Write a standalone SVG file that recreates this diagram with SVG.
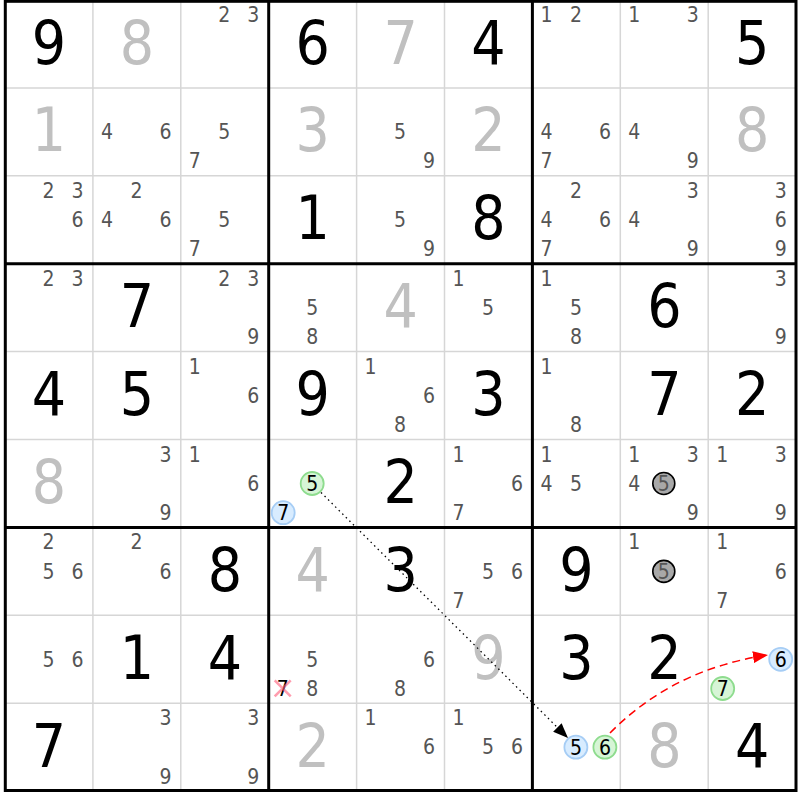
<svg xmlns="http://www.w3.org/2000/svg" width="800" height="800" viewBox="0 0 800 800">
<style>
text{font-family:"DejaVu Sans Condensed","DejaVu Sans",sans-serif;text-anchor:middle}
.b{font-size:60px;fill:#000}
.g{font-size:60px;fill:#c0c0c0}
.c{font-size:21px;fill:#555555}
.k{font-size:21px;fill:#000}
.thin{stroke:#d6d6d6;stroke-width:1.5}
.thick{stroke:#000;stroke-width:3;fill:none}
.blue{fill:#d8ecff;stroke:#a6cdf5;stroke-width:1.8}
.green{fill:#d6f5d6;stroke:#8edc8e;stroke-width:1.8}
.grey{fill:#a8a8a8;stroke:#000;stroke-width:1.6}
</style>
<defs>
<marker id="ab" markerUnits="userSpaceOnUse" markerWidth="16" markerHeight="12" refX="15" refY="6" orient="auto"><path d="M0,0 L15,6 L0,12 Z" fill="#000"/></marker>
<marker id="ar" markerUnits="userSpaceOnUse" markerWidth="16" markerHeight="12" refX="15" refY="6" orient="auto"><path d="M0,0 L15,6 L0,12 Z" fill="#ff0000"/></marker>
</defs>
<rect width="800" height="800" fill="#fff"/>
<g id="grid">
<g class="thin">
<line x1="92.9" y1="0" x2="92.9" y2="791"/><line x1="180.8" y1="0" x2="180.8" y2="791"/>
<line x1="356.6" y1="0" x2="356.6" y2="791"/><line x1="444.5" y1="0" x2="444.5" y2="791"/>
<line x1="620.3" y1="0" x2="620.3" y2="791"/><line x1="708.2" y1="0" x2="708.2" y2="791"/>
<line x1="5" y1="87.9" x2="796" y2="87.9"/><line x1="5" y1="175.8" x2="796" y2="175.8"/>
<line x1="5" y1="351.6" x2="796" y2="351.6"/><line x1="5" y1="439.5" x2="796" y2="439.5"/>
<line x1="5" y1="615.3" x2="796" y2="615.3"/><line x1="5" y1="703.2" x2="796" y2="703.2"/>
</g>
<g class="thick">
<rect x="5.3" y="1.3" width="790.7" height="789.2"/>
<line x1="268.7" y1="0" x2="268.7" y2="791"/><line x1="532.4" y1="0" x2="532.4" y2="791"/>
<line x1="5" y1="263.7" x2="796" y2="263.7"/><line x1="5" y1="527.4" x2="796" y2="527.4"/>
</g>
</g>
<!-- row 0 -->
<g id="r0c0" transform="translate(5,0)"><text class="b" x="44" y="63.5">9</text></g>
<g id="r0c1" transform="translate(92.9,0)"><text class="g" x="44" y="63.5">8</text></g>
<g id="r0c2" transform="translate(180.8,0)"><text class="c" x="43.5" y="22">2</text><text class="c" x="72.5" y="22">3</text></g>
<g id="r0c3" transform="translate(268.7,0)"><text class="b" x="44" y="63.5">6</text></g>
<g id="r0c4" transform="translate(356.6,0)"><text class="g" x="44" y="63.5">7</text></g>
<g id="r0c5" transform="translate(444.5,0)"><text class="b" x="44" y="63.5">4</text></g>
<g id="r0c6" transform="translate(532.4,0)"><text class="c" x="14" y="22">1</text><text class="c" x="43.5" y="22">2</text></g>
<g id="r0c7" transform="translate(620.3,0)"><text class="c" x="14" y="22">1</text><text class="c" x="72.5" y="22">3</text></g>
<g id="r0c8" transform="translate(708.2,0)"><text class="b" x="44" y="63.5">5</text></g>
<!-- row 1 -->
<g id="r1c0" transform="translate(5,87.9)"><text class="g" x="44" y="63.5">1</text></g>
<g id="r1c1" transform="translate(92.9,87.9)"><text class="c" x="14" y="51.3">4</text><text class="c" x="72.5" y="51.3">6</text></g>
<g id="r1c2" transform="translate(180.8,87.9)"><text class="c" x="43.5" y="51.3">5</text><text class="c" x="14" y="80.5">7</text></g>
<g id="r1c3" transform="translate(268.7,87.9)"><text class="g" x="44" y="63.5">3</text></g>
<g id="r1c4" transform="translate(356.6,87.9)"><text class="c" x="43.5" y="51.3">5</text><text class="c" x="72.5" y="80.5">9</text></g>
<g id="r1c5" transform="translate(444.5,87.9)"><text class="g" x="44" y="63.5">2</text></g>
<g id="r1c6" transform="translate(532.4,87.9)"><text class="c" x="14" y="51.3">4</text><text class="c" x="72.5" y="51.3">6</text><text class="c" x="14" y="80.5">7</text></g>
<g id="r1c7" transform="translate(620.3,87.9)"><text class="c" x="14" y="51.3">4</text><text class="c" x="72.5" y="80.5">9</text></g>
<g id="r1c8" transform="translate(708.2,87.9)"><text class="g" x="44" y="63.5">8</text></g>
<!-- row 2 -->
<g id="r2c0" transform="translate(5,175.8)"><text class="c" x="43.5" y="22">2</text><text class="c" x="72.5" y="22">3</text><text class="c" x="72.5" y="51.3">6</text></g>
<g id="r2c1" transform="translate(92.9,175.8)"><text class="c" x="43.5" y="22">2</text><text class="c" x="14" y="51.3">4</text><text class="c" x="72.5" y="51.3">6</text></g>
<g id="r2c2" transform="translate(180.8,175.8)"><text class="c" x="43.5" y="51.3">5</text><text class="c" x="14" y="80.5">7</text></g>
<g id="r2c3" transform="translate(268.7,175.8)"><text class="b" x="44" y="63.5">1</text></g>
<g id="r2c4" transform="translate(356.6,175.8)"><text class="c" x="43.5" y="51.3">5</text><text class="c" x="72.5" y="80.5">9</text></g>
<g id="r2c5" transform="translate(444.5,175.8)"><text class="b" x="44" y="63.5">8</text></g>
<g id="r2c6" transform="translate(532.4,175.8)"><text class="c" x="43.5" y="22">2</text><text class="c" x="14" y="51.3">4</text><text class="c" x="72.5" y="51.3">6</text><text class="c" x="14" y="80.5">7</text></g>
<g id="r2c7" transform="translate(620.3,175.8)"><text class="c" x="72.5" y="22">3</text><text class="c" x="14" y="51.3">4</text><text class="c" x="72.5" y="80.5">9</text></g>
<g id="r2c8" transform="translate(708.2,175.8)"><text class="c" x="72.5" y="22">3</text><text class="c" x="72.5" y="51.3">6</text><text class="c" x="72.5" y="80.5">9</text></g>
<!-- row 3 -->
<g id="r3c0" transform="translate(5,263.7)"><text class="c" x="43.5" y="22">2</text><text class="c" x="72.5" y="22">3</text></g>
<g id="r3c1" transform="translate(92.9,263.7)"><text class="b" x="44" y="63.5">7</text></g>
<g id="r3c2" transform="translate(180.8,263.7)"><text class="c" x="43.5" y="22">2</text><text class="c" x="72.5" y="22">3</text><text class="c" x="72.5" y="80.5">9</text></g>
<g id="r3c3" transform="translate(268.7,263.7)"><text class="c" x="43.5" y="51.3">5</text><text class="c" x="43.5" y="80.5">8</text></g>
<g id="r3c4" transform="translate(356.6,263.7)"><text class="g" x="44" y="63.5">4</text></g>
<g id="r3c5" transform="translate(444.5,263.7)"><text class="c" x="14" y="22">1</text><text class="c" x="43.5" y="51.3">5</text></g>
<g id="r3c6" transform="translate(532.4,263.7)"><text class="c" x="14" y="22">1</text><text class="c" x="43.5" y="51.3">5</text><text class="c" x="43.5" y="80.5">8</text></g>
<g id="r3c7" transform="translate(620.3,263.7)"><text class="b" x="44" y="63.5">6</text></g>
<g id="r3c8" transform="translate(708.2,263.7)"><text class="c" x="72.5" y="22">3</text><text class="c" x="72.5" y="80.5">9</text></g>
<!-- row 4 -->
<g id="r4c0" transform="translate(5,351.6)"><text class="b" x="44" y="63.5">4</text></g>
<g id="r4c1" transform="translate(92.9,351.6)"><text class="b" x="44" y="63.5">5</text></g>
<g id="r4c2" transform="translate(180.8,351.6)"><text class="c" x="14" y="22">1</text><text class="c" x="72.5" y="51.3">6</text></g>
<g id="r4c3" transform="translate(268.7,351.6)"><text class="b" x="44" y="63.5">9</text></g>
<g id="r4c4" transform="translate(356.6,351.6)"><text class="c" x="14" y="22">1</text><text class="c" x="72.5" y="51.3">6</text><text class="c" x="43.5" y="80.5">8</text></g>
<g id="r4c5" transform="translate(444.5,351.6)"><text class="b" x="44" y="63.5">3</text></g>
<g id="r4c6" transform="translate(532.4,351.6)"><text class="c" x="14" y="22">1</text><text class="c" x="43.5" y="80.5">8</text></g>
<g id="r4c7" transform="translate(620.3,351.6)"><text class="b" x="44" y="63.5">7</text></g>
<g id="r4c8" transform="translate(708.2,351.6)"><text class="b" x="44" y="63.5">2</text></g>
<!-- row 5 -->
<g id="r5c0" transform="translate(5,439.5)"><text class="g" x="44" y="63.5">8</text></g>
<g id="r5c1" transform="translate(92.9,439.5)"><text class="c" x="72.5" y="22">3</text><text class="c" x="72.5" y="80.5">9</text></g>
<g id="r5c2" transform="translate(180.8,439.5)"><text class="c" x="14" y="22">1</text><text class="c" x="72.5" y="51.3">6</text></g>
<g id="r5c3" transform="translate(268.7,439.5)"><circle class="green" cx="43.5" cy="44" r="11.5"/><text class="k" x="43.5" y="51.5">5</text><circle class="blue" cx="14.5" cy="73.2" r="11.5"/><text class="k" x="14.5" y="80.7">7</text></g>
<g id="r5c4" transform="translate(356.6,439.5)"><text class="b" x="44" y="63.5">2</text></g>
<g id="r5c5" transform="translate(444.5,439.5)"><text class="c" x="14" y="22">1</text><text class="c" x="72.5" y="51.3">6</text><text class="c" x="14" y="80.5">7</text></g>
<g id="r5c6" transform="translate(532.4,439.5)"><text class="c" x="14" y="22">1</text><text class="c" x="14" y="51.3">4</text><text class="c" x="43.5" y="51.3">5</text></g>
<g id="r5c7" transform="translate(620.3,439.5)"><text class="c" x="14" y="22">1</text><text class="c" x="72.5" y="22">3</text><text class="c" x="14" y="51.3">4</text><circle class="grey" cx="43.5" cy="44" r="11"/><text class="c" x="43.5" y="51.5">5</text><text class="c" x="72.5" y="80.5">9</text></g>
<g id="r5c8" transform="translate(708.2,439.5)"><text class="c" x="14" y="22">1</text><text class="c" x="72.5" y="22">3</text><text class="c" x="72.5" y="80.5">9</text></g>
<!-- row 6 -->
<g id="r6c0" transform="translate(5,527.4)"><text class="c" x="43.5" y="22">2</text><text class="c" x="43.5" y="51.3">5</text><text class="c" x="72.5" y="51.3">6</text></g>
<g id="r6c1" transform="translate(92.9,527.4)"><text class="c" x="43.5" y="22">2</text><text class="c" x="72.5" y="51.3">6</text></g>
<g id="r6c2" transform="translate(180.8,527.4)"><text class="b" x="44" y="63.5">8</text></g>
<g id="r6c3" transform="translate(268.7,527.4)"><text class="g" x="44" y="63.5">4</text></g>
<g id="r6c4" transform="translate(356.6,527.4)"><text class="b" x="44" y="63.5">3</text></g>
<g id="r6c5" transform="translate(444.5,527.4)"><text class="c" x="43.5" y="51.3">5</text><text class="c" x="72.5" y="51.3">6</text><text class="c" x="14" y="80.5">7</text></g>
<g id="r6c6" transform="translate(532.4,527.4)"><text class="b" x="44" y="63.5">9</text></g>
<g id="r6c7" transform="translate(620.3,527.4)"><text class="c" x="14" y="22">1</text><circle class="grey" cx="43.5" cy="44" r="11"/><text class="c" x="43.5" y="51.5">5</text></g>
<g id="r6c8" transform="translate(708.2,527.4)"><text class="c" x="14" y="22">1</text><text class="c" x="72.5" y="51.3">6</text><text class="c" x="14" y="80.5">7</text></g>
<!-- row 7 -->
<g id="r7c0" transform="translate(5,615.3)"><text class="c" x="43.5" y="51.3">5</text><text class="c" x="72.5" y="51.3">6</text></g>
<g id="r7c1" transform="translate(92.9,615.3)"><text class="b" x="44" y="63.5">1</text></g>
<g id="r7c2" transform="translate(180.8,615.3)"><text class="b" x="44" y="63.5">4</text></g>
<g id="r7c3" transform="translate(268.7,615.3)"><text class="c" x="43.5" y="51.3">5</text><text class="k" x="14" y="80.5">7</text><path d="M6,65 L22,81 M22,65 L6,81" stroke="#ff5a78" stroke-opacity="0.6" stroke-width="2.6" fill="none"/><text class="c" x="43.5" y="80.5">8</text></g>
<g id="r7c4" transform="translate(356.6,615.3)"><text class="c" x="72.5" y="51.3">6</text><text class="c" x="43.5" y="80.5">8</text></g>
<g id="r7c5" transform="translate(444.5,615.3)"><text class="g" x="44" y="63.5">9</text></g>
<g id="r7c6" transform="translate(532.4,615.3)"><text class="b" x="44" y="63.5">3</text></g>
<g id="r7c7" transform="translate(620.3,615.3)"><text class="b" x="44" y="63.5">2</text></g>
<g id="r7c8" transform="translate(708.2,615.3)"><circle class="blue" cx="72.5" cy="44" r="11.5"/><text class="k" x="72.5" y="51.5">6</text><circle class="green" cx="14.5" cy="73.2" r="11.5"/><text class="k" x="14.5" y="80.7">7</text></g>
<!-- row 8 -->
<g id="r8c0" transform="translate(5,703.2)"><text class="b" x="44" y="63.5">7</text></g>
<g id="r8c1" transform="translate(92.9,703.2)"><text class="c" x="72.5" y="22">3</text><text class="c" x="72.5" y="80.5">9</text></g>
<g id="r8c2" transform="translate(180.8,703.2)"><text class="c" x="72.5" y="22">3</text><text class="c" x="72.5" y="80.5">9</text></g>
<g id="r8c3" transform="translate(268.7,703.2)"><text class="g" x="44" y="63.5">2</text></g>
<g id="r8c4" transform="translate(356.6,703.2)"><text class="c" x="14" y="22">1</text><text class="c" x="72.5" y="51.3">6</text></g>
<g id="r8c5" transform="translate(444.5,703.2)"><text class="c" x="14" y="22">1</text><text class="c" x="43.5" y="51.3">5</text><text class="c" x="72.5" y="51.3">6</text></g>
<g id="r8c6" transform="translate(532.4,703.2)"><circle class="blue" cx="43.5" cy="44" r="11.5"/><text class="k" x="43.5" y="51.5">5</text><circle class="green" cx="72.5" cy="44" r="11.5"/><text class="k" x="72.5" y="51.5">6</text></g>
<g id="r8c7" transform="translate(620.3,703.2)"><text class="g" x="44" y="63.5">8</text></g>
<g id="r8c8" transform="translate(708.2,703.2)"><text class="b" x="44" y="63.5">4</text></g>
<g id="connectors" fill="none">
<line x1="321" y1="492.5" x2="568" y2="738" stroke="#000" stroke-width="1.3" stroke-dasharray="1.5 3.5" marker-end="url(#ab)"/>
<path d="M610,733 Q673,669 768,655" stroke="#ff0000" stroke-width="1.5" stroke-dasharray="8 5" marker-end="url(#ar)"/>
</g>
</svg>
